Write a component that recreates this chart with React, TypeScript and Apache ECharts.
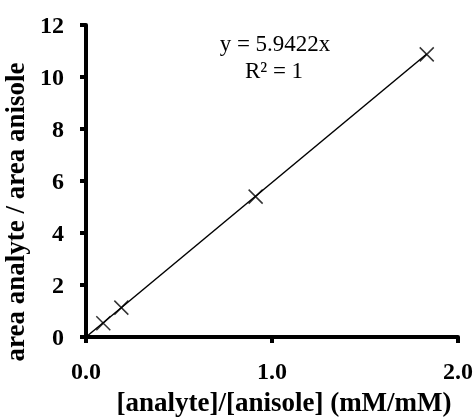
import React, { useEffect, useRef } from "react";
import * as echarts from "echarts";

const xValues = [0.093, 0.19, 0.912, 1.832];
const yValues = [0.53, 1.13, 5.4, 10.87];
const slope = 5.9422;
const trendX = [0, 1.832];
const equationText = "y = 5.9422x";
const r2Text = "R² = 1";
const xTitle = "[analyte]/[anisole] (mM/mM)";
const yTitle = "area analyte / area anisole";

export default function App() {
  const ref = useRef<HTMLDivElement>(null);
  useEffect(() => {
    if (!ref.current) return;
    const chart = echarts.init(ref.current, null, { renderer: "svg" });
    const font = "'Liberation Serif', 'Times New Roman', serif";
    chart.setOption({
      animation: false,
      grid: { left: 86, right: 17, top: 25, bottom: 80 },
      xAxis: {
        type: "value",
        min: 0,
        max: 2,
        interval: 1,
        axisLine: { show: true, lineStyle: { color: "#000", width: 4 } },
        axisTick: { show: true, length: 6, lineStyle: { color: "#000", width: 4 } },
        splitLine: { show: false },
        axisLabel: {
          formatter: (v: number) => v.toFixed(1),
          color: "#000",
          fontFamily: font,
          fontWeight: "bold",
          fontSize: 24,
          margin: 22,
        },
      },
      yAxis: {
        type: "value",
        min: 0,
        max: 12,
        interval: 2,
        axisLine: { show: true, lineStyle: { color: "#000", width: 4 } },
        axisTick: { show: true, length: 6, lineStyle: { color: "#000", width: 4 } },
        splitLine: { show: false },
        axisLabel: {
          color: "#000",
          fontFamily: font,
          fontWeight: "bold",
          fontSize: 24,
          margin: 22,
        },
      },
      graphic: [
        {
          type: "text",
          x: 275,
          y: 43,
          style: { text: equationText, fill: "#000", font: `23px ${font}`, align: "center", verticalAlign: "middle" },
        },
        {
          type: "text",
          x: 274,
          y: 70,
          style: { text: r2Text, fill: "#000", font: `23px ${font}`, align: "center", verticalAlign: "middle" },
        },
        {
          type: "text",
          x: 284,
          y: 402,
          style: { text: xTitle, fill: "#000", font: `bold 27px ${font}`, align: "center", verticalAlign: "middle" },
        },
        {
          type: "text",
          x: 15,
          y: 212,
          rotation: Math.PI / 2,
          style: { text: yTitle, fill: "#000", font: `bold 27px ${font}`, align: "center", verticalAlign: "middle" },
        },
      ],
      series: [
        {
          type: "line",
          data: trendX.map((x) => [x, x * slope]),
          showSymbol: false,
          symbol: "none",
          lineStyle: { color: "#000", width: 1.5 },
          silent: true,
        },
        {
          type: "scatter",
          data: xValues.map((x, i) => [x, yValues[i]]),
          symbol: "path://M0,0L10,10M10,0L0,10",
          symbolSize: 14,
          itemStyle: { color: "none", borderColor: "#000", borderWidth: 1.5 },
        },
      ],
    });
    return () => chart.dispose();
  }, []);
  return <div ref={ref} style={{ position: "fixed", left: 0, top: 0, width: 476, height: 417 }} />;
}
